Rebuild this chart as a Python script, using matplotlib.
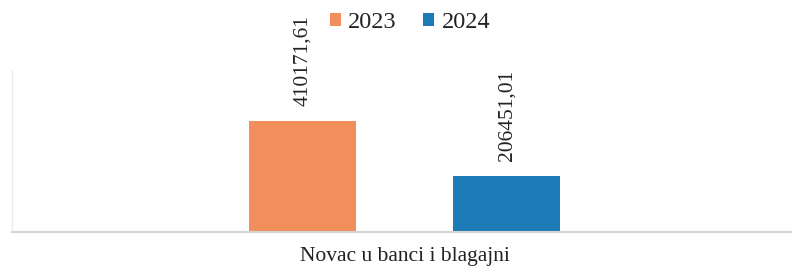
import matplotlib.pyplot as plt
from matplotlib.patches import Patch

# podaci
kategorija = 'Novac u banci i blagajni'
godine = ['2023', '2024']
vrijednosti = [410171.61, 206451.01]
boje = ['#F28E5B', '#1C7BB6']

plt.rcParams['font.family'] = ['Liberation Serif', 'DejaVu Serif']

fig = plt.figure(figsize=(7.92, 2.68), dpi=100)
ax = fig.add_axes([12 / 792, 36 / 268, 785 / 792, 162 / 268])

pomaci = [-0.26, 0.26]
for i in range(len(godine)):
    bars = ax.bar(pomaci[i], vrijednosti[i], width=0.273, color=boje[i], zorder=2)
    oznaka = f'{vrijednosti[i]:.2f}'.replace('.', ',')
    ax.bar_label(bars, labels=[oznaka], padding=11, rotation=90, fontsize=15.5, color='#222222')

ax.set_xlim(-1, 1)
ax.set_ylim(0, 600000)
ax.set_yticks([])
ax.set_xticks([0])
ax.set_xticklabels([kategorija], fontsize=15.5, color='#222222')
ax.tick_params(axis='x', length=0, pad=11)

for s in ['top', 'right']:
    ax.spines[s].set_visible(False)
ax.spines['bottom'].set_color('#d4d4d4')
ax.spines['bottom'].set_linewidth(1.5)
ax.spines['left'].set_color('#ececec')
ax.spines['left'].set_linewidth(1.0)

# legenda
handles = [Patch(facecolor=boje[i], label=godine[i]) for i in range(len(godine))]
fig.legend(handles=handles, loc='upper center', bbox_to_anchor=(410 / 792, 1.035), ncol=2,
           frameon=False, fontsize=17.5, handlelength=0.45, handleheight=0.45,
           handletextpad=0.3, columnspacing=1.1, labelcolor='#222222')

fig.savefig('out.png', dpi=100)
